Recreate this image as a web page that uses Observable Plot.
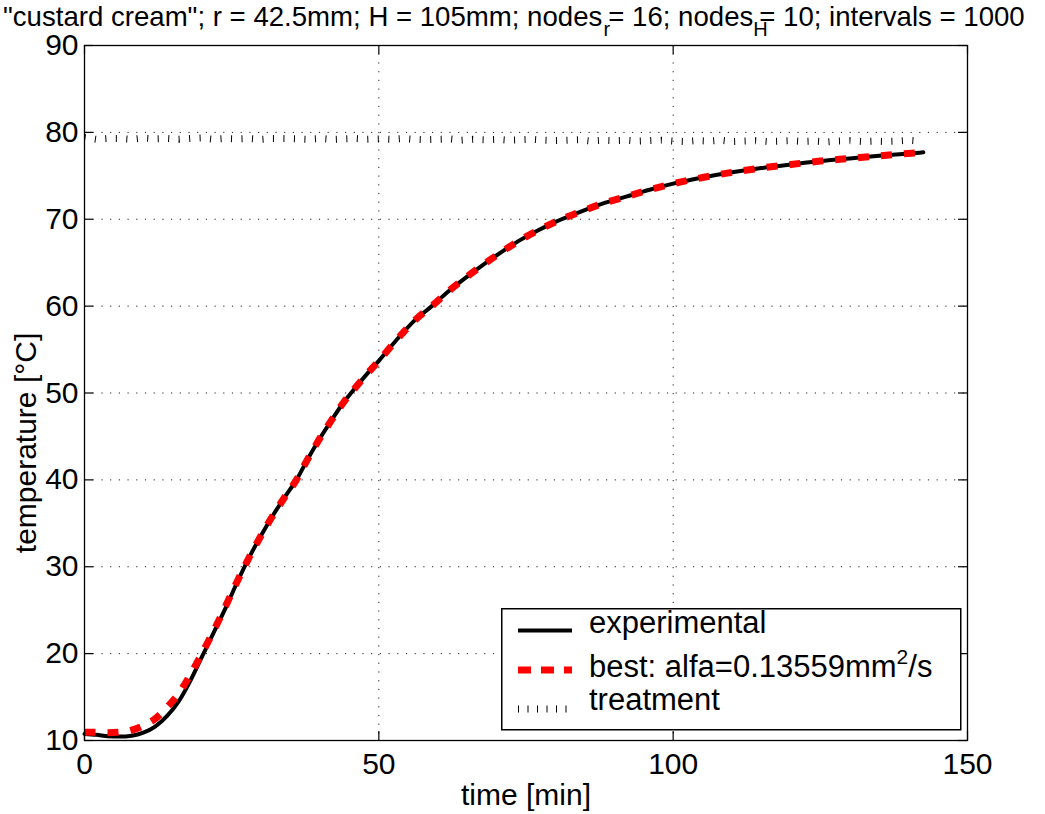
<!DOCTYPE html>
<html>
<head>
<meta charset="utf-8">
<script src="https://cdn.jsdelivr.net/npm/d3@7"></script>
<script src="https://cdn.jsdelivr.net/npm/@observablehq/plot@0.6"></script>
<style>
  body { margin: 0; background: white; }
  #wrap { position: relative; width: 1045px; height: 814px; font-family: "Liberation Sans", Arial, sans-serif; }
  #title { position: absolute; left: 3px; top: 2px; font-size: 27.6px; white-space: nowrap; color: #000; line-height: 30px; }
  #title .sub { display: inline-block; width: 9px; position: relative; top: 10px; font-size: 20px; line-height: 20px; text-align: center; margin-right: -3px; }
  #legend { position: absolute; left: 501px; top: 608px; }
</style>
</head>
<body>
<div id="wrap">
  <div id="chart"></div>
  <div id="title">"custard cream"; r = 42.5mm; H = 105mm; nodes<span class="sub">r</span>= 16; nodes<span class="sub">H</span>= 10; intervals = 1000</div>
  <svg id="legend" width="462" height="124" xmlns="http://www.w3.org/2000/svg" font-family="Liberation Sans, Arial, sans-serif" font-size="31">
    <rect x="0.75" y="0.75" width="459" height="121" fill="white" stroke="black" stroke-width="1.5"/>
    <line x1="17" x2="71" y1="22.5" y2="22.5" stroke="black" stroke-width="4"/>
    <text x="88" y="25">experimental</text>
    <line x1="17" x2="71" y1="62" y2="62" stroke="red" stroke-width="7" stroke-dasharray="13,10"/>
    <text x="88" y="69">best: alfa=0.13559mm<tspan dy="-13" font-size="21">2</tspan><tspan dy="13">/s</tspan></text>
    <line x1="17" x2="66" y1="101" y2="101" stroke="black" stroke-width="7" stroke-dasharray="1,8.5"/>
    <text x="88" y="102">treatment</text>
  </svg>
</div>
<script>
// experimental and best-fit curves (time in min, temperature in °C)
const curveTime = [0, 2, 4, 6, 8, 10, 12, 14, 16, 18, 20, 22, 24, 26, 28, 30, 32, 34, 36, 38, 40, 42, 44, 46, 48, 50, 53, 56, 59, 62, 65, 68, 71, 74, 77, 80, 84, 88, 92, 96, 100, 105, 110, 115, 120, 125, 130, 135, 142.5];
const experimental = [10.75, 10.65, 10.5, 10.45, 10.55, 10.9, 11.6, 12.8, 14.5, 16.9, 19.7, 22.5, 25.3, 28.3, 31.1, 33.6, 35.9, 38.0, 40.0, 42.5, 44.8, 46.9, 48.9, 50.6, 52.2, 53.7, 56.1, 58.3, 60.0, 61.8, 63.4, 64.9, 66.3, 67.6, 68.7, 69.7, 70.8, 71.8, 72.6, 73.4, 74.1, 74.8, 75.4, 75.9, 76.3, 76.7, 77.0, 77.3, 77.7];
const bestFit = [10.95, 10.95, 10.9, 10.95, 11.2, 11.7, 12.5, 13.8, 15.4, 17.6, 20.1, 22.7, 25.5, 28.4, 31.1, 33.6, 35.9, 38.0, 40.0, 42.5, 44.8, 46.9, 48.9, 50.6, 52.2, 53.7, 56.1, 58.3, 60.0, 61.8, 63.4, 64.9, 66.3, 67.6, 68.7, 69.7, 70.8, 71.8, 72.6, 73.4, 74.1, 74.8, 75.4, 75.9, 76.3, 76.7, 77.0, 77.3, 77.7];
// treatment (oven) temperature, sampled every 2 min from 0 to 142
const treatmentTime = d3.range(0, 143, 2);
const treatment = [79.4, 79.2, 79.3, 79.3, 79.2, 79.35, 79.25, 79.3, 79.2, 79.3, 79.35, 79.2, 79.3, 79.25, 79.3, 79.2, 79.3, 79.3, 79.25, 79.2, 79.3, 79.2, 79.25, 79.3, 79.2, 79.25, 79.2, 79.3, 79.2, 79.15, 79.2, 79.25, 79.1, 79.2, 79.15, 79.2, 79.1, 79.15, 79.2, 79.1, 79.05, 79.1, 79.15, 79.0, 79.1, 79.05, 79.1, 79.0, 79.05, 79.1, 79.0, 78.95, 79.05, 79.0, 79.1, 78.95, 79.0, 79.05, 78.95, 79.0, 79.05, 78.95, 79.0, 78.9, 79.0, 79.05, 78.95, 79.0, 78.95, 79.0, 79.1, 79.0];
const xTicks = [0, 50, 100, 150];
const yTicks = [10, 20, 30, 40, 50, 60, 70, 80, 90];
const xGrid = [50, 100];
const yGrid = [20, 30, 40, 50, 60, 70, 80];

const expData = curveTime.map((t, i) => ({t, v: experimental[i]}));
const fitData = curveTime.map((t, i) => ({t, v: bestFit[i]}));
const treatData = treatmentTime.map((t, i) => ({t, v: treatment[i]})).filter(d => d.v !== undefined);

const W = 1045, H = 814, mL = 84, mR = 78, mT = 45, mB = 74;
const fw = W - mL - mR, fh = H - mT - mB, tl = 9;

const chart = Plot.plot({
  width: W, height: H,
  marginLeft: mL, marginRight: mR, marginTop: mT, marginBottom: mB,
  style: {fontFamily: "Liberation Sans, Arial, sans-serif", fontSize: "30px", color: "black", background: "white"},
  x: {domain: [0, 150]},
  y: {domain: [10, 90]},
  marks: [
    Plot.ruleX(xGrid, {x: d => d, stroke: "#222", strokeWidth: 1, strokeDasharray: "1.2,7.5"}),
    Plot.ruleY(yGrid, {y: d => d, stroke: "#222", strokeWidth: 1, strokeDasharray: "1.2,7.5"}),
    Plot.line(treatData, {x: "t", y: "v", stroke: "black", strokeWidth: 7, strokeDasharray: "1,9.5", strokeLinecap: "butt", strokeLinejoin: "miter"}),
    Plot.line(expData, {x: "t", y: "v", stroke: "black", strokeWidth: 4, curve: "monotone-x"}),
    Plot.line(fitData, {x: "t", y: "v", stroke: "red", strokeWidth: 7, strokeDasharray: "11,12", strokeLinecap: "butt", curve: "monotone-x"}),
    Plot.frame({stroke: "black", strokeWidth: 1.3}),
    Plot.tickX(xTicks, {x: d => d, insetTop: fh - tl, stroke: "black", strokeWidth: 1.2}),
    Plot.tickX(xTicks, {x: d => d, insetBottom: fh - tl, stroke: "black", strokeWidth: 1.2}),
    Plot.tickY(yTicks, {y: d => d, insetRight: fw - tl, stroke: "black", strokeWidth: 1.2}),
    Plot.tickY(yTicks, {y: d => d, insetLeft: fw - tl, stroke: "black", strokeWidth: 1.2}),
    Plot.axisX({ticks: xTicks, tickSize: 0, tickPadding: 12, label: null, fontSize: 30}),
    Plot.axisY({ticks: yTicks, tickSize: 0, tickPadding: 6, label: null, fontSize: 30}),
    Plot.text(["time [min]"], {frameAnchor: "bottom", dy: 64, fontSize: 30, fill: "black"}),
    Plot.text(["temperature [°C]"], {frameAnchor: "left", textAnchor: "middle", dx: -58, dy: 50, rotate: -90, fontSize: 30, fill: "black"})
  ]
});
document.getElementById("chart").appendChild(chart);
</script>
</body>
</html>
